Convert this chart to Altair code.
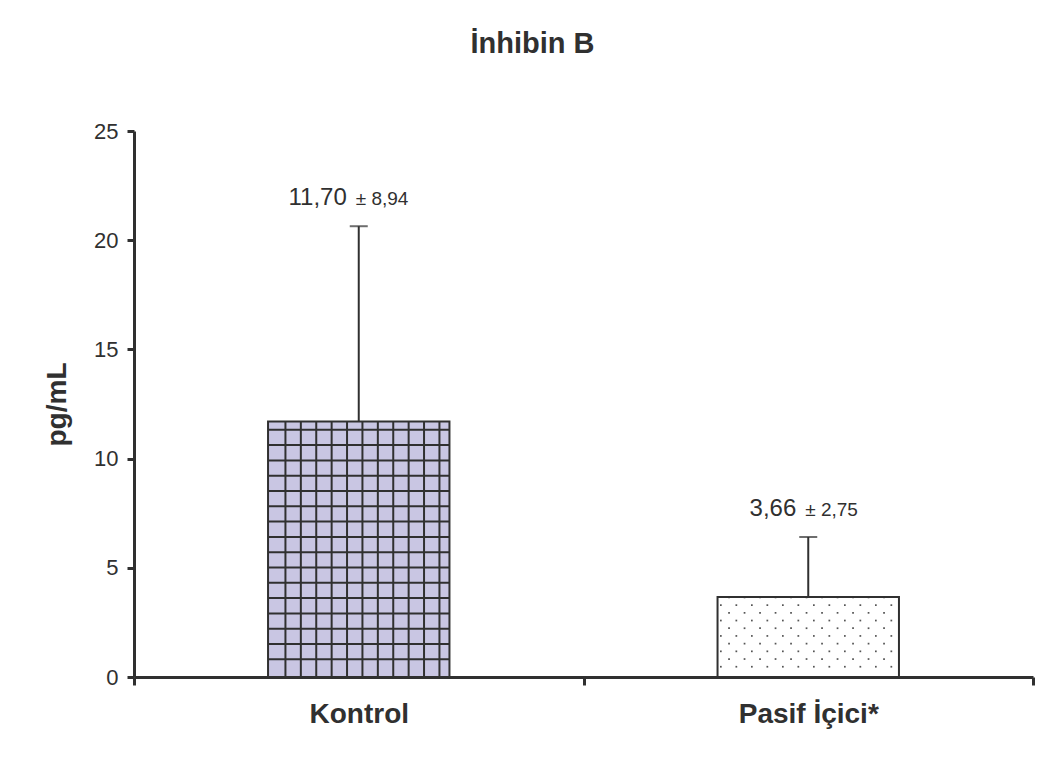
import altair as alt
import pandas as pd
import numpy as np

# ---- data ----
categories = ["Kontrol", "Pasif İçici*"]
means = [11.70, 3.66]
sds = [8.94, 2.75]
mean_labels = ["11,70", "3,66"]
sd_labels = ["± 8,94", "± 2,75"]
fills = ["#C9C6E3", "#FFFFFF"]

TITLE = "İnhibin B"
Y_TITLE = "pg/mL"
Y_TICKS = [0, 5, 10, 15, 20, 25]

FONT = "Liberation Sans"
INK = "#303030"
W, H = 899, 546
BAR_FRAC = 0.4036

df = pd.DataFrame({
    "cat": categories,
    "mean": means,
    "top": [m + s for m, s in zip(means, sds)],
    "mlab": mean_labels,
    "slab": sd_labels,
    "fill": fills,
})

# ---- decorative textures (grid on first bar, dots on second) ----
px = 2.0 / W  # one pixel in x units of the [0, 2] texture scale
py = 25.0 / H  # one pixel in y units
half = BAR_FRAC / 2

vlines, hlines, dots = [], [], []
l0, r0 = 0.5 - half, 0.5 + half
xv = l0 + 17.4 * px
while xv < r0 - 2 * px:
    vlines.append({"x": xv, "y": 0.0, "y2": means[0]})
    xv += 15.4 * px
yv = 0.81
while yv < means[0] - 2 * py:
    hlines.append({"x": l0, "x2": r0, "y": yv})
    yv += 15.3 * py
l1, r1 = 1.5 - half, 1.5 + half
j = 0
yv = 0.47
while yv < means[1]:
    xd = l1 + (3.3 if j % 2 == 0 else 11.5) * px
    while xd < r1 - 2 * px:
        dots.append({"x": xd, "y": yv})
        xd += 15.5 * px
    j += 1
    yv += 7.7 * py

tex_x = alt.Scale(domain=[0, 2], nice=False, zero=False)
yscale = alt.Scale(domain=[0, 25], nice=False)
band_scale = alt.Scale(domain=categories, paddingInner=0, paddingOuter=0)

xband = alt.X("cat:N", sort=categories, scale=band_scale,
              axis=alt.Axis(title=None, labelAngle=0, tickBand="extent",
                            labelFont=FONT, labelFontSize=28, labelFontWeight="bold",
                            labelColor=INK, labelPadding=15,
                            domainColor=INK, domainWidth=3,
                            tickColor=INK, tickWidth=3, tickSize=8))
xband_na = alt.X("cat:N", sort=categories, scale=band_scale, axis=None)
yenc = alt.Y("mean:Q", scale=yscale,
             axis=alt.Axis(title=Y_TITLE, values=Y_TICKS, grid=False,
                           titleFont=FONT, titleFontSize=28, titleFontWeight="bold",
                           titleColor=INK, titlePadding=22,
                           labelFont=FONT, labelFontSize=22, labelColor=INK,
                           labelPadding=9,
                           domainColor=INK, domainWidth=3,
                           tickColor=INK, tickWidth=3, tickSize=7))

base = alt.Chart(df)

bars = base.mark_bar(width=alt.RelativeBandSize(BAR_FRAC)).encode(
    x=xband, y=yenc, fill=alt.Fill("fill:N", scale=None))

tex_v = alt.Chart(pd.DataFrame(vlines)).mark_rule(color=INK, strokeWidth=2).encode(
    x=alt.X("x:Q", scale=tex_x, axis=None),
    y=alt.Y("y:Q", scale=yscale), y2="y2:Q")
tex_h = alt.Chart(pd.DataFrame(hlines)).mark_rule(color=INK, strokeWidth=2).encode(
    x=alt.X("x:Q", scale=tex_x, axis=None), x2="x2:Q",
    y=alt.Y("y:Q", scale=yscale))
tex_d = alt.Chart(pd.DataFrame(dots)).mark_square(color="#555555", size=3, opacity=1).encode(
    x=alt.X("x:Q", scale=tex_x, axis=None),
    y=alt.Y("y:Q", scale=yscale))
textures = alt.layer(tex_v, tex_h, tex_d)

outline = base.mark_bar(width=alt.RelativeBandSize(BAR_FRAC), fillOpacity=0,
                        stroke=INK, strokeWidth=2).encode(x=xband_na, y=alt.Y("mean:Q", scale=yscale))

err = base.mark_rule(color=INK, strokeWidth=2).encode(
    x=xband_na, y=alt.Y("mean:Q", scale=yscale), y2="top:Q")
cap = base.mark_tick(color=INK, thickness=2, size=18, orient="horizontal").encode(
    x=xband_na, y=alt.Y("top:Q", scale=yscale))

tmean = base.mark_text(font=FONT, fontSize=24, color=INK, align="right",
                       baseline="alphabetic", dx=-12, dy=-21).encode(
    x=xband_na, y=alt.Y("top:Q", scale=yscale), text="mlab:N")
tsd = base.mark_text(font=FONT, fontSize=19, color=INK, align="left",
                     baseline="alphabetic", dx=-3, dy=-21).encode(
    x=xband_na, y=alt.Y("top:Q", scale=yscale), text="slab:N")

front = alt.layer(outline, err, cap, tmean, tsd)

chart = alt.layer(bars, textures, front).resolve_scale(
    x="independent"
).properties(
    width=W, height=H,
    background="white",
    title=alt.TitleParams(text=TITLE, font=FONT, fontSize=29, fontWeight="bold",
                          color=INK, anchor="middle", dx=-51, offset=61),
    autosize=alt.AutoSizeParams(type="none"),
    padding={"left": 126, "top": 123, "right": 10, "bottom": 80},
).configure_view(stroke=None)

chart.save("out.html", embed_options={"renderer": "svg", "actions": False})
